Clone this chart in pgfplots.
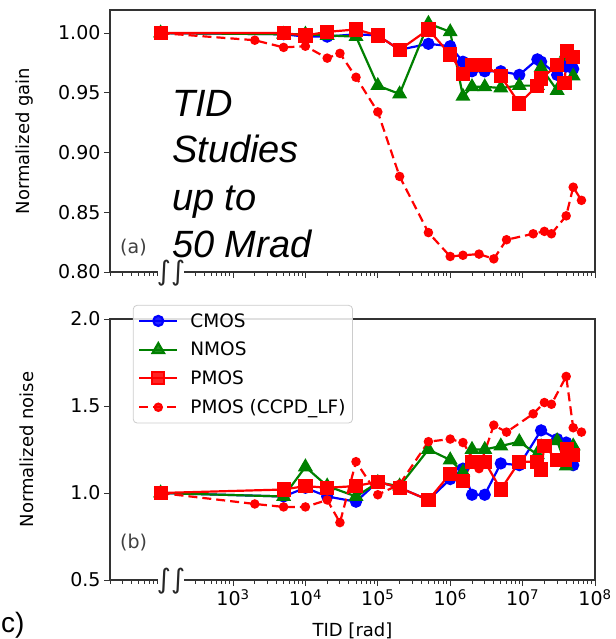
\documentclass[border=0pt]{standalone}
\usepackage{fontspec}
\setmainfont{DejaVu Sans}
\newfontfamily\arial{Liberation Sans}
\usepackage{pgfplots}
\pgfplotsset{compat=1.18}
\definecolor{mplgreen}{rgb}{0,0.5,0}

\pgfplotsset{
 cmos/.style={blue, line width=2.2pt, mark=*, mark size=5pt, mark options={solid}},
 nmos/.style={mplgreen, line width=2.2pt, mark=triangle*, mark size=6.5pt, mark options={solid}},
 pmos/.style={red, line width=2.2pt, mark=square*, mark size=6pt, mark options={solid}},
 ccpd/.style={red, line width=2.2pt, dash pattern=on 9pt off 5pt, mark=*, mark size=3.6pt, mark options={solid}},
}

\begin{document}
\begin{tikzpicture}
\path[use as bounding box] (0,0) rectangle (615pt,-639pt);

% ---------------- top panel: gain ----------------
\begin{axis}[
  scale only axis, width=485pt,
  xmode=log, xmin=20, xmax=1e8,
  axis line style={black!80, line width=1.2pt},
  tick pos=left, tick align=outside,
  major tick length=6pt, minor tick length=3.5pt,
  every tick/.append style={black!80, line width=1pt},
  xtick={1e3,1e4,1e5,1e6,1e7,1e8},
  minor xtick={20,30,40,50,60,70,80,90,100,200,300,400,500,600,700,800,900,2000,3000,4000,5000,6000,7000,8000,9000,2e4,3e4,4e4,5e4,6e4,7e4,8e4,9e4,2e5,3e5,4e5,5e5,6e5,7e5,8e5,9e5,2e6,3e6,4e6,5e6,6e6,7e6,8e6,9e6,2e7,3e7,4e7,5e7,6e7,7e7,8e7,9e7},
  tick label style={font=\fontsize{19}{19}\selectfont},
  label style={font=\fontsize{18}{18}\selectfont},
  ylabel style={at={(axis description cs:-0.15,0.5)}, anchor=south},
  at={(110pt,-272pt)}, anchor=south west, height=262pt,
  ymin=0.80, ymax=1.0193,
  ytick={0.80,0.85,0.90,0.95,1.00},
  xticklabels={},
  yticklabel style={/pgf/number format/.cd, fixed, fixed zerofill, precision=2, assume math mode=true},
  ylabel={Normalized gain},
]
\addplot[cmos] coordinates {
(100,1.000) (5000,0.999) (10000,0.997) (20000,0.997) (50000,0.999) (1e5,0.998) (2e5,0.986) (5e5,0.991) (1e6,0.989) (1.5e6,0.976) (2e6,0.968) (3e6,0.968) (5e6,0.968) (9e6,0.965) (1.6e7,0.978) (1.8e7,0.976) (3e7,0.965) (4e7,0.972) (5e7,0.970)};
\addplot[nmos] coordinates {
(100,1.000) (5000,0.999) (10000,0.999) (20000,0.998) (50000,0.997) (1e5,0.956) (2e5,0.949) (5e5,1.008) (1e6,1.001) (1.5e6,0.947) (2e6,0.955) (3e6,0.955) (5e6,0.954) (9e6,0.956) (1.6e7,0.956) (1.8e7,0.971) (3e7,0.952) (4e7,0.983) (5e7,0.964)};
\addplot[pmos] coordinates {
(100,1.000) (5000,1.000) (10000,0.998) (20000,1.001) (50000,1.003) (1e5,0.998) (2e5,0.986) (5e5,1.003) (1e6,0.982) (1.5e6,0.966) (2e6,0.973) (3e6,0.973) (5e6,0.964) (9e6,0.941) (1.6e7,0.956) (1.8e7,0.962) (3e7,0.973) (3.8e7,0.958) (4.1e7,0.985) (5e7,0.980)};
\addplot[ccpd] coordinates {
(100,1.000) (2000,0.994) (5000,0.988) (10000,0.989) (20000,0.979) (30000,0.983) (50000,0.963) (1e5,0.934) (2e5,0.880) (5e5,0.833) (1e6,0.813) (1.5e6,0.814) (2.5e6,0.815) (4e6,0.811) (6e6,0.827) (1.4e7,0.832) (2e7,0.834) (2.5e7,0.832) (4e7,0.847) (5e7,0.871) (6.5e7,0.860)};
\end{axis}

% ---------------- bottom panel: noise ----------------
\begin{axis}[
  scale only axis, width=485pt,
  xmode=log, xmin=20, xmax=1e8,
  axis line style={black!80, line width=1.2pt},
  tick pos=left, tick align=outside,
  major tick length=6pt, minor tick length=3.5pt,
  every tick/.append style={black!80, line width=1pt},
  xtick={1e3,1e4,1e5,1e6,1e7,1e8},
  minor xtick={20,30,40,50,60,70,80,90,100,200,300,400,500,600,700,800,900,2000,3000,4000,5000,6000,7000,8000,9000,2e4,3e4,4e4,5e4,6e4,7e4,8e4,9e4,2e5,3e5,4e5,5e5,6e5,7e5,8e5,9e5,2e6,3e6,4e6,5e6,6e6,7e6,8e6,9e6,2e7,3e7,4e7,5e7,6e7,7e7,8e7,9e7},
  tick label style={font=\fontsize{19}{19}\selectfont},
  label style={font=\fontsize{18}{18}\selectfont},
  ylabel style={at={(axis description cs:-0.15,0.5)}, anchor=south},
  legend image code/.code={\draw[sharp corners,mark repeat=2,mark phase=2,#1] plot coordinates {(0pt,0pt) (19pt,0pt) (38pt,0pt)};},
  at={(110pt,-580pt)}, anchor=south west, height=261pt,
  ymin=0.5, ymax=2.0,
  ytick={0.5,1.0,1.5,2.0},
  xticklabels={10\textsuperscript{3},10\textsuperscript{4},10\textsuperscript{5},10\textsuperscript{6},10\textsuperscript{7},10\textsuperscript{8}},
  yticklabel style={/pgf/number format/.cd, fixed, fixed zerofill, precision=1, assume math mode=true},
  ylabel={Normalized noise},
  xlabel={TID [rad]},
  xlabel style={at={(axis description cs:0.5,-0.2146)}, anchor=base},
  legend style={at={(0.047,1.054)}, anchor=north west, draw=black!20, line width=0.8pt,
    rounded corners=4pt, fill=white, fill opacity=0.85, text opacity=1,
    font=\fontsize{18.5}{18.5}\selectfont, row sep=9.5pt, inner xsep=5pt, inner ysep=6pt,
    column sep=10pt, cells={anchor=west}},
  legend cell align=left,
]
\addplot[cmos] coordinates {
(100,1.00) (5000,0.98) (10000,1.03) (20000,0.98) (50000,0.95) (1e5,1.065) (2e5,1.03) (5e5,0.96) (1e6,1.08) (1.5e6,1.14) (2e6,0.99) (3e6,0.99) (5e6,1.17) (9e6,1.16) (1.8e7,1.36) (3e7,1.31) (4e7,1.29) (5e7,1.16)};
\addplot[nmos] coordinates {
(100,1.00) (5000,0.98) (10000,1.15) (20000,1.04) (50000,0.98) (1e5,1.06) (2e5,1.04) (5e5,1.25) (1e6,1.19) (1.5e6,1.12) (2e6,1.25) (3e6,1.25) (5e6,1.27) (9e6,1.295) (1.6e7,1.22) (1.8e7,1.265) (3e7,1.30) (4e7,1.155) (5e7,1.27)};
\addplot[pmos] coordinates {
(100,1.00) (5000,1.02) (10000,1.04) (20000,1.03) (50000,1.04) (1e5,1.065) (2e5,1.03) (5e5,0.96) (1e6,1.11) (1.5e6,1.07) (2e6,1.18) (3e6,1.18) (5e6,1.02) (9e6,1.18) (1.6e7,1.18) (1.8e7,1.135) (2e7,1.27) (3e7,1.19) (3.8e7,1.19) (4.1e7,1.25) (5e7,1.22)};
\addplot[ccpd] coordinates {
(100,1.00) (2000,0.937) (5000,0.92) (10000,0.92) (20000,0.96) (30000,0.83) (50000,1.18) (1e5,0.99) (2e5,1.05) (5e5,1.295) (1e6,1.31) (1.5e6,1.29) (2.5e6,1.14) (4e6,1.39) (6e6,1.35) (1.4e7,1.455) (2e7,1.52) (2.5e7,1.51) (4e7,1.67) (5e7,1.375) (6.5e7,1.35)};
\legend{CMOS,NMOS,PMOS,PMOS (CCPD\_LF)}
\end{axis}

% axis break marks
\fill[white] (158pt,-268pt) rectangle (184pt,-276pt);
\fill[white] (158pt,-576pt) rectangle (184pt,-584pt);
\node[font=\fontsize{27}{27}\selectfont, inner sep=0pt, black!85] at (171pt,-273pt) {∫∫};
\node[font=\fontsize{27}{27}\selectfont, inner sep=0pt, black!85] at (171pt,-581pt) {∫∫};

% panel labels
\node[anchor=base west, inner sep=0pt, font=\fontsize{19}{19}\selectfont, black!75] at (120pt,-253pt) {(a)};
\node[anchor=base west, inner sep=0pt, font=\fontsize{19}{19}\selectfont, black!75] at (120pt,-548pt) {(b)};

% annotation
\begin{scope}[every node/.style={anchor=base west, inner sep=0pt, font=\arial\itshape\fontsize{38}{38}\selectfont}]
\node at (172pt,-117pt) {TID};
\node at (172pt,-163pt) {Studies};
\node at (172pt,-210pt) {up to};
\node at (172pt,-257pt) {50 Mrad};
\end{scope}

\node[anchor=base west, inner sep=0pt, font=\arial\fontsize{28}{28}\selectfont] at (1pt,-632pt) {c)};
\end{tikzpicture}
\end{document}
